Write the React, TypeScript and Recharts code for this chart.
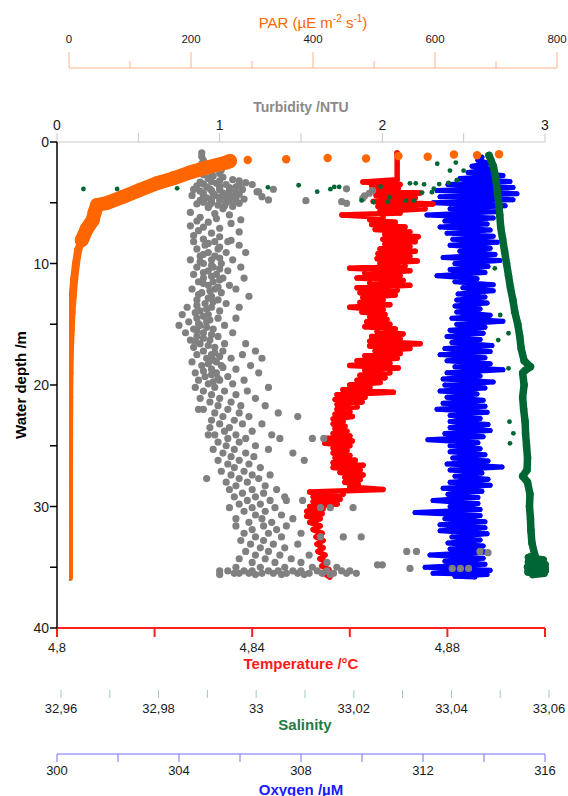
import { Scatter, ScatterChart, XAxis, YAxis } from "recharts";

type Pt = [number, number]; // [depth m, value]

const W = 568;
const H = 796;
const FONT = '"Liberation Sans", Arial, sans-serif';

const ORANGE = "#ff6600";
const GRAY = "#808080";
const RED = "#ff0000";
const BLUE = "#0000ff";
const GREEN = "#006633";

// Axis ticks
const DEPTH_TICKS = [0, 5, 10, 15, 20, 25, 30, 35, 40];
const TURBIDITY_TICKS = [0, 0.5, 1, 1.5, 2, 2.5, 3];
const PAR_TICKS = [0, 100, 200, 300, 400, 500, 600, 700, 800];
const TEMP_TICKS = [4.8, 4.82, 4.84, 4.86, 4.88, 4.9];
const SALINITY_TICKS = [32.96, 32.97, 32.98, 32.99, 33, 33.01, 33.02, 33.03, 33.04, 33.05, 33.06];
const OXYGEN_TICKS = [300, 302, 304, 306, 308, 310, 312, 314, 316];

// PAR (µE m-2 s-1): the profile near the surface, the deep tail, and the single surface readings
const PAR_UPPER: Pt[] = [
  [1.56, 264], [1.69, 258], [2.1, 226], [2.51, 198], [2.99, 171], [3.4, 144], [3.95, 116],
  [4.5, 89], [5.02, 62], [5.19, 46], [5.8, 42], [6.42, 39], [7.16, 29], [8.07, 21],
];
const PAR_DEEP: Pt[] = [
  [7.16, 29], [8.07, 21], [8.89, 15], [10.0, 11.5], [11.3, 8.5], [12.75, 6], [14, 4.2], [15.5, 2.8],
  [17, 1.6], [19, 0.8], [21, 0.4], [24, 0.2], [28, 0], [32, 0], [35.8, 0],
];
const PAR_SURFACE: Pt[] = [
  [1.48, 293], [1.42, 356], [1.32, 424], [1.36, 487], [1.15, 540], [1.21, 588], [1.03, 631], [1.09, 669], [1.01, 705],
];

// Temperature (°C), traced edge to edge down the band
const TEMPERATURE: Pt[] = [
  [0.9, 4.8697], [3.1, 4.8697],
  [3.3, 4.8627], [3.5, 4.8703], [3.6, 4.8645], [3.8, 4.8699], [4.0, 4.8645], [4.2, 4.8744],
  [4.4, 4.8654], [4.6, 4.8734], [4.9, 4.8648], [5.1, 4.877], [5.3, 4.8658], [5.5, 4.8754],
  [5.7, 4.8662], [5.85, 4.8703], [6.0, 4.8584], [6.2, 4.8668], [6.4, 4.8641], [6.6, 4.8693],
  [6.8, 4.8645], [7.0, 4.8713], [7.2, 4.8652], [7.4, 4.8723], [7.6, 4.8672], [7.8, 4.874],
  [8.0, 4.8668], [8.2, 4.8734], [8.4, 4.8672], [8.6, 4.8723], [8.8, 4.8662], [9.0, 4.8734],
  [9.2, 4.8658], [9.4, 4.8723], [9.6, 4.8656], [9.8, 4.8738], [10.0, 4.8662], [10.2, 4.8713],
  [10.4, 4.86], [10.6, 4.8723], [10.8, 4.8631], [11.0, 4.8703], [11.2, 4.8615], [11.4, 4.8709],
  [11.6, 4.8641], [11.8, 4.8723], [12.0, 4.8615], [12.2, 4.8697], [12.4, 4.8621], [12.6, 4.8693],
  [12.8, 4.8627], [13.0, 4.8668], [13.2, 4.8621], [13.4, 4.8682], [13.6, 4.86], [13.8, 4.8668],
  [14.0, 4.8625], [14.2, 4.8672], [14.4, 4.8641], [14.6, 4.8676], [14.8, 4.8635], [15.0, 4.8682],
  [15.2, 4.8631], [15.4, 4.8693], [15.6, 4.8656], [15.8, 4.8709], [16.0, 4.8645], [16.2, 4.8703],
  [16.4, 4.8641], [16.6, 4.8744], [16.8, 4.8641], [17.0, 4.8723], [17.2, 4.8652], [17.4, 4.8703],
  [17.6, 4.8631], [17.8, 4.8697], [18.0, 4.8615], [18.2, 4.8682], [18.4, 4.86], [18.6, 4.8699],
  [18.8, 4.8631], [19.0, 4.8682], [19.2, 4.8621], [19.4, 4.8672], [19.6, 4.8615], [19.8, 4.8662],
  [20.0, 4.86], [20.2, 4.8641], [20.4, 4.8586], [20.6, 4.8689], [20.8, 4.8574], [21.0, 4.8631],
  [21.2, 4.857], [21.4, 4.8625], [21.6, 4.8574], [21.8, 4.8615], [22.0, 4.8574], [22.2, 4.86],
  [22.4, 4.857], [22.6, 4.8605], [22.8, 4.8566], [23.0, 4.8586], [23.2, 4.8566], [23.4, 4.859],
  [23.6, 4.857], [23.8, 4.8594], [24.0, 4.8566], [24.2, 4.86], [24.4, 4.8549], [24.6, 4.8605],
  [24.8, 4.8549], [25.0, 4.86], [25.2, 4.8566], [25.4, 4.8594], [25.6, 4.8566], [25.8, 4.86],
  [26.0, 4.857], [26.2, 4.8611], [26.4, 4.8566], [26.6, 4.8627], [26.8, 4.8566], [27.0, 4.8621],
  [27.2, 4.858], [27.4, 4.8627], [27.6, 4.859], [27.8, 4.8621], [28.0, 4.859], [28.2, 4.8617],
  [28.4, 4.86], [28.6, 4.8668], [28.8, 4.8518], [29.0, 4.8586], [29.2, 4.8525], [29.4, 4.858],
  [29.6, 4.8525], [29.8, 4.8574], [30.0, 4.8518], [30.2, 4.8545], [30.4, 4.8512], [30.6, 4.8543],
  [30.8, 4.8512], [31.0, 4.8539], [31.3, 4.8518], [31.6, 4.8539], [31.9, 4.8525], [32.2, 4.8543],
  [32.5, 4.8531], [32.8, 4.8545], [33.1, 4.8533], [33.4, 4.8545], [33.7, 4.8535], [34.0, 4.8549],
  [34.3, 4.8539], [34.6, 4.8553], [34.9, 4.8543], [35.2, 4.8557], [35.5, 4.8547], [35.8, 4.8559],
];

// Oxygen (µM), traced edge to edge down the band
const OXYGEN: Pt[] = [
  [1.25, 313.93], [1.5, 313.8], [1.75, 314.13], [2.0, 313.61], [2.25, 314.26], [2.5, 313.48], [2.75, 314.62],
  [3.0, 313.21], [3.25, 314.85], [3.5, 312.82], [3.75, 314.95], [4.0, 312.46], [4.25, 315.08], [4.5, 312.56],
  [4.75, 314.95], [5.0, 312.33], [5.25, 314.69], [5.5, 312.89], [5.75, 314.36], [6.0, 312.13], [6.25, 314.3],
  [6.5, 312.72], [6.75, 314.1], [7.0, 312.56], [7.25, 314.2], [7.5, 312.79], [7.75, 314.3], [8.0, 312.98],
  [8.25, 314.43], [8.5, 312.89], [8.75, 314.2], [9.0, 313.21], [9.25, 314.36], [9.5, 312.66], [9.75, 314.52],
  [10, 313.05], [10.25, 314.13], [10.5, 312.89], [10.75, 314.03], [11, 312.46], [11.25, 313.77], [11.5, 313.05],
  [11.75, 314.3], [12, 313.31], [12.25, 314.3], [12.5, 313.15], [12.75, 314.03], [13, 313.11], [13.25, 314.1],
  [13.5, 313.05], [13.75, 313.87], [14, 313.11], [14.25, 314.2], [14.5, 312.95], [14.75, 314.62], [15, 313.11],
  [15.25, 314.03], [15.5, 312.89], [15.75, 313.97], [16, 312.79], [16.25, 313.87], [16.5, 312.95], [16.75, 314.26],
  [17, 312.72], [17.25, 314.2], [17.5, 312.56], [17.75, 314.03], [18, 312.79], [18.25, 314.2], [18.5, 313.05],
  [18.75, 314.62], [19, 312.79], [19.25, 313.87], [19.5, 312.66], [19.75, 314.3], [20, 312.72], [20.25, 314.03],
  [20.5, 312.56], [20.75, 313.77], [21, 312.79], [21.25, 313.97], [21.5, 312.66], [21.75, 314.03], [22, 312.46],
  [22.25, 314.1], [22.5, 312.89], [22.75, 313.87], [23, 312.89], [23.25, 314.13], [23.5, 312.89], [23.75, 314.2],
  [24, 312.72], [24.25, 313.97], [24.5, 312.16], [24.75, 313.8], [25, 312.89], [25.25, 313.87], [25.5, 312.89],
  [25.75, 314.03], [26, 312.98], [26.25, 314.13], [26.5, 312.79], [26.75, 314.59], [27, 312.89], [27.25, 313.93],
  [27.5, 313.05], [27.75, 314.13], [28, 312.89], [28.25, 314.2], [28.5, 312.66], [28.75, 313.93], [29, 312.82],
  [29.25, 313.8], [29.5, 312.33], [29.75, 313.8], [30, 312.89], [30.25, 313.87], [30.5, 311.74], [30.75, 313.87],
  [31, 312.72], [31.25, 314.03], [31.5, 312.56], [31.75, 314.03], [32, 312.56], [32.25, 314.1], [32.5, 312.95],
  [32.75, 313.87], [33, 312.82], [33.25, 313.97], [33.5, 312.89], [33.75, 314.03], [34, 312.23], [34.25, 313.97],
  [34.5, 312.72], [34.75, 314.03], [35, 312.07], [35.25, 314.2], [35.5, 312.33], [35.6, 314.1], [35.75, 313.05],
  [35.8, 313.7],
];

// Salinity: main profile and scattered readings
const SALINITY: Pt[] = [
  [1.1, 33.0477], [1.5, 33.0481], [2, 33.0486], [3, 33.0491], [4, 33.0494], [5, 33.0497], [6, 33.0499],
  [7, 33.0501], [8, 33.0505], [9, 33.0509], [10, 33.0513], [11, 33.0517], [12, 33.0521], [13, 33.0526],
  [14, 33.053], [15, 33.0536], [16, 33.054], [17, 33.0543], [18, 33.0549], [18.5, 33.0562], [18.8, 33.0551],
  [19, 33.0546], [20, 33.0549], [21, 33.0546], [22, 33.0548], [23, 33.0551], [24, 33.0552], [25, 33.0554],
  [26, 33.0556], [27, 33.0555], [27.5, 33.0546], [28, 33.0556], [29, 33.0561], [30, 33.056], [31, 33.0562],
  [32, 33.0563], [33, 33.0565], [34, 33.0571], [34.2, 33.0558], [34.4, 33.0588], [34.6, 33.0558], [34.8, 33.0592],
  [35.0, 33.0556], [35.2, 33.0594], [35.4, 33.0557], [35.5, 33.059], [35.6, 33.0567],
];
const SALINITY_SCATTER: Pt[] = [
  [3.87, 32.9646], [3.87, 32.9715], [3.81, 32.9838], [3.73, 33.0024], [3.56, 33.0087], [4.09, 33.0125],
  [3.88, 33.0152], [3.7, 33.016], [3.7, 33.017], [4.81, 33.0216], [4.94, 33.0241], [3.68, 33.0255],
  [4.53, 33.0274], [4.91, 33.027], [4.83, 33.0307], [4.83, 33.0324], [3.4, 33.0315], [3.4, 33.0327],
  [3.48, 33.0344], [4.16, 33.034], [4.13, 33.036], [3.83, 33.0364], [3.46, 33.0375], [1.79, 33.0371],
  [1.69, 33.0409], [2.35, 33.0397], [2.35, 33.0425], [3.36, 33.0394], [3.15, 33.0411], [10.4, 33.0489],
  [14.24, 33.05], [15.74, 33.0517], [16.3, 33.0496], [18.63, 33.0517], [23.02, 33.0519], [24.8, 33.052],
  [23.98, 33.0527],
];

// Turbidity (NTU)
const TURBIDITY: Pt[] = [
  [0.9, 0.89], [1.2, 0.89], [1.5, 0.9], [1.8, 0.89], [2.1, 0.9], [2.4, 0.89], [2.7, 0.9],
  [1.7, 1.01], [2.0, 1.0], [2.3, 1.01], [2.6, 1.0], [2.9, 1.02], [3.2, 1.0], [2.2, 0.96], [2.5, 0.95], [2.8, 0.96],
  [3.0, 0.93], [3.1, 1.08], [3.2, 1.12], [3.3, 0.88], [3.35, 1.16], [3.4, 0.98], [3.5, 1.04], [3.5, 1.2],
  [3.6, 0.86], [3.7, 0.92], [3.7, 1.1], [3.8, 1.0], [3.9, 1.14], [3.9, 0.84], [4.0, 0.95], [4.0, 1.06],
  [4.1, 1.23], [4.2, 0.9], [4.2, 1.02], [4.3, 1.12], [4.4, 0.83], [4.4, 0.97], [4.5, 1.08], [4.5, 1.26],
  [4.6, 0.92], [4.6, 1.04], [4.7, 1.15], [4.8, 0.88], [4.8, 1.0], [4.9, 1.1], [5.0, 0.95], [5.0, 1.04],
  [5.1, 0.86], [5.2, 0.99], [5.3, 1.08], [5.4, 0.93], [5.5, 1.02],
  [3.25, 0.95], [3.45, 0.9], [3.55, 1.12], [3.65, 1.0], [3.75, 1.06], [3.85, 0.94], [3.95, 1.0], [4.05, 0.88],
  [4.15, 1.1], [4.25, 0.96], [4.35, 1.05], [4.45, 0.9], [4.55, 1.0], [4.65, 1.1], [4.75, 0.95], [4.85, 1.06],
  [4.95, 0.9], [5.05, 1.12], [5.15, 0.94], [5.25, 1.03],
  [3.89, 1.33], [4.83, 1.53], [4.91, 1.75], [5.05, 1.78], [3.85, 1.78], [4.22, 1.92], [3.99, 1.94],
  [4.63, 1.88], [4.44, 1.89], [4.1, 1.24], [4.77, 1.3],
  [5.8, 0.82], [5.9, 0.97], [6.0, 1.06], [6.2, 0.88], [6.3, 0.98], [6.4, 1.13], [6.5, 0.86], [6.6, 0.93],
  [6.7, 1.07], [6.9, 0.82], [7.0, 0.9], [7.1, 1.0], [7.3, 0.87], [7.4, 1.12], [7.5, 0.95], [7.7, 0.84],
  [7.8, 1.0], [8.0, 0.9], [8.1, 1.07],
  [8.2, 0.84], [8.2, 0.97], [8.2, 1.05], [8.5, 0.91], [8.5, 1.12], [8.8, 0.86], [8.8, 0.99], [9.1, 0.93],
  [9.1, 1.04], [9.1, 1.16], [9.4, 0.88], [9.4, 0.97], [9.7, 0.82], [9.7, 0.95], [9.7, 1.08], [10.0, 0.9],
  [10.0, 1.01], [10.3, 0.86], [10.3, 0.96], [10.3, 1.13], [10.6, 0.93], [10.6, 1.05], [10.9, 0.84],
  [10.9, 0.98], [11.2, 0.9], [11.2, 1.02], [11.2, 1.15], [11.5, 0.87], [11.5, 0.96], [11.8, 0.93],
  [11.8, 1.06], [12.1, 0.83], [12.1, 0.97], [12.1, 1.1], [12.4, 0.89], [12.4, 1.01], [12.7, 0.95],
  [12.7, 1.18], [13.0, 0.86], [13.0, 0.99], [13.3, 0.91], [13.3, 1.04], [13.6, 0.8], [13.6, 0.95],
  [13.6, 1.12], [13.9, 0.88], [13.9, 1.0],
  [8.35, 0.93], [8.65, 1.0], [9.25, 0.9], [9.55, 1.0], [9.85, 0.88], [10.15, 0.95], [10.45, 1.0],
  [10.75, 0.9], [11.05, 0.95], [11.35, 1.0], [11.65, 0.9], [11.95, 0.99], [12.25, 0.94], [12.55, 0.87],
  [12.85, 0.93], [13.15, 0.96], [13.45, 0.86], [13.75, 0.92],
  [14.2, 0.77], [14.2, 0.93], [14.5, 0.86], [14.5, 0.99], [14.5, 1.1], [14.8, 0.81], [14.8, 0.92],
  [15.1, 0.75], [15.1, 0.88], [15.1, 1.03], [15.4, 0.84], [15.4, 0.96], [15.7, 0.79], [15.7, 0.9],
  [15.7, 1.08], [16.0, 0.86], [16.0, 0.99], [16.3, 0.82], [16.3, 0.94], [16.6, 0.88], [16.6, 1.03],
  [16.6, 1.16], [16.9, 0.84], [16.9, 0.97],
  [14.05, 0.85], [14.35, 0.9], [14.65, 0.94], [14.95, 0.87], [15.25, 0.92], [15.55, 0.86], [15.85, 0.95],
  [16.15, 0.9], [16.45, 0.85], [16.75, 0.93],
  [17.2, 0.9], [17.2, 1.02], [17.2, 1.22], [17.5, 0.86], [17.5, 0.95], [17.5, 1.14], [17.8, 0.92],
  [17.8, 1.07], [17.8, 1.26], [18.1, 0.83], [18.1, 0.98], [18.4, 0.89], [18.4, 1.01], [18.4, 1.19],
  [18.7, 0.95], [18.7, 1.1], [19.0, 0.85], [19.0, 0.98], [19.0, 1.24], [19.3, 0.91], [19.3, 1.05],
  [19.6, 0.87], [19.6, 1.0], [19.6, 1.15], [19.9, 0.93], [19.9, 1.08],
  [17.35, 0.97], [17.65, 1.0], [17.95, 0.96], [18.25, 0.93], [18.55, 1.02], [18.85, 0.9], [19.15, 0.95],
  [19.45, 0.99], [19.75, 0.96],
  [20.2, 0.85], [20.2, 0.97], [20.2, 1.3], [20.5, 0.9], [20.5, 1.03], [20.5, 1.17], [20.8, 0.95],
  [20.8, 1.1], [21.1, 0.88], [21.1, 1.0], [21.1, 1.22], [21.4, 0.94], [21.4, 1.07], [21.7, 0.99],
  [21.7, 1.13], [21.7, 1.28], [22.0, 0.87], [22.0, 0.9], [22.0, 1.05], [22.3, 0.97], [22.3, 1.12],
  [22.3, 1.36], [22.6, 1.02], [22.6, 1.18], [22.6, 1.48], [22.9, 0.95], [22.9, 1.09], [23.2, 1.0],
  [23.2, 1.14], [23.2, 1.26], [23.5, 0.94], [23.5, 1.06], [23.8, 1.03], [23.8, 1.2], [24.1, 0.93],
  [24.1, 0.97], [24.1, 1.1], [24.1, 1.32], [24.4, 1.05], [24.4, 1.16], [24.4, 1.37], [24.4, 1.57],
  [24.4, 1.64], [24.7, 0.99], [24.7, 1.12], [25.0, 1.04], [25.0, 1.22], [25.3, 0.96], [25.3, 1.09],
  [25.3, 1.3], [25.6, 1.02], [25.6, 1.16], [25.6, 1.45], [25.9, 1.07], [25.9, 1.21], [26.2, 0.99],
  [26.2, 1.12], [26.2, 1.52], [26.5, 1.05], [26.5, 1.18], [26.8, 1.09], [26.8, 1.25], [27.1, 1.01],
  [27.1, 1.15], [27.4, 1.07], [27.4, 1.2], [27.4, 1.31], [27.7, 0.92], [27.7, 1.12], [27.7, 1.24],
  [28.0, 1.04], [28.0, 1.17], [28.3, 1.1], [28.3, 1.28], [28.6, 1.06], [28.6, 1.2], [28.6, 1.35],
  [28.9, 1.14], [28.9, 1.27], [29.2, 1.09], [29.2, 1.22], [29.2, 1.4], [29.5, 1.17], [29.5, 1.31],
  [29.5, 1.41], [29.5, 1.51], [29.8, 1.12], [29.8, 1.25], [30.1, 1.06], [30.1, 1.2], [30.1, 1.34],
  [30.1, 1.62], [30.1, 1.68], [30.1, 1.82], [30.4, 1.15], [30.4, 1.28], [30.7, 1.22], [30.7, 1.38],
  [31.0, 1.1], [31.0, 1.26], [31.0, 1.45], [31.3, 1.18], [31.3, 1.32], [31.6, 1.1], [31.6, 1.27],
  [31.6, 1.41], [31.9, 1.2], [31.9, 1.35], [32.2, 1.15], [32.2, 1.3], [32.2, 1.5], [32.5, 1.22],
  [32.5, 1.38], [32.5, 1.62], [32.5, 1.76], [32.5, 1.87], [32.8, 1.13], [32.8, 1.27], [33.1, 1.19],
  [33.1, 1.33], [33.1, 1.48], [33.4, 1.25], [33.4, 1.4], [33.7, 1.16], [33.7, 1.3], [33.7, 2.15],
  [33.7, 2.21], [33.7, 2.6], [33.8, 2.65], [34.0, 1.22], [34.0, 1.37], [34.0, 1.55], [34.3, 1.12],
  [34.3, 1.28], [34.3, 1.44], [34.6, 1.2], [34.6, 1.34], [34.6, 1.5], [34.6, 1.66], [34.8, 1.97],
  [34.8, 2.0], [35.0, 1.1], [35.0, 1.25], [35.0, 1.4], [35.0, 1.57], [35.0, 1.72], [35.1, 2.17],
  [35.1, 2.43], [35.1, 2.48], [35.1, 2.53],
  [35.3, 1.0], [35.3, 1.05], [35.3, 1.15], [35.3, 1.2], [35.3, 1.3], [35.3, 1.36], [35.3, 1.45],
  [35.3, 1.5], [35.3, 1.6], [35.3, 1.66], [35.3, 1.75], [35.3, 1.8], [35.5, 1.09], [35.5, 1.12],
  [35.5, 1.18], [35.5, 1.26], [35.5, 1.33], [35.5, 1.41], [35.5, 1.48], [35.5, 1.55], [35.5, 1.63],
  [35.5, 1.7], [35.5, 1.78], [35.5, 1.84], [35.6, 1.0], [35.6, 1.22], [35.6, 1.38], [35.6, 1.52],
  [35.6, 1.68],
];

const rows = (pts: Pt[]) => pts.map(([d, v]) => ({ d, v }));
const comma = (v: number) => String(parseFloat(v.toFixed(2))).replace(".", ",");

// Tick drawn by hand so that line length and label visibility can vary per tick.
// tickSize/tickMargin are 0 on every axis, so (x, y) is the point on the axis line.
function hTick(o: {
  len: (v: number) => number;
  up?: boolean;
  stroke: string;
  sw?: number;
  text: (v: number) => string | null;
  dy: number;
  size: number;
}) {
  return (props: any) => {
    const { x, y, payload } = props;
    const v = payload.value as number;
    const s = o.up ? -1 : 1;
    const label = o.text(v);
    return (
      <g>
        <line x1={x} x2={x} y1={y} y2={y + s * o.len(v)} stroke={o.stroke} strokeWidth={o.sw ?? 1} />
        {label !== null && (
          <text x={x} y={y + o.dy} textAnchor="middle" fontSize={o.size} fill="#1a1a1a" fontFamily={FONT}>
            {label}
          </text>
        )}
      </g>
    );
  };
}

const DepthTick = (props: any) => {
  const { x, y, payload } = props;
  const v = payload.value as number;
  return (
    <g>
      <line x1={x - 7} x2={x} y1={y} y2={y} stroke="#000" strokeWidth={1.5} />
      {v % 10 === 0 && (
        <text x={x - 8} y={y} dy="0.36em" textAnchor="end" fontSize={14} fill="#1a1a1a" fontFamily={FONT}>
          {v}
        </text>
      )}
    </g>
  );
};

function title(text: string, color: string, dy: number, fromBottom = false, size = 15, bold = true) {
  return (props: any) => {
    const vb = props.viewBox;
    return (
      <text
        x={vb.x + vb.width / 2}
        y={(fromBottom ? vb.y + vb.height : vb.y) + dy}
        textAnchor="middle"
        fontSize={size}
        fontWeight={bold ? "bold" : "normal"}
        fill={color}
        fontFamily={FONT}
      >
        {text}
      </text>
    );
  };
}

const parTitle = (props: any) => {
  const vb = props.viewBox;
  return (
    <text x={vb.x + vb.width / 2} y={vb.y + vb.height - 40} textAnchor="middle" fontSize={15} fill={ORANGE} fontFamily={FONT}>
      PAR (µE m<tspan fontSize={10} dy={-6}>-2</tspan>
      <tspan dy={6}> s</tspan>
      <tspan fontSize={10} dy={-6}>-1</tspan>
      <tspan dy={6}>)</tspan>
    </text>
  );
};

const depthTitle = (props: any) => {
  const vb = props.viewBox;
  const cx = vb.x + 21;
  const cy = vb.y + vb.height / 2;
  return (
    <text x={cx} y={cy} transform={`rotate(-90 ${cx} ${cy})`} dy="0.36em" textAnchor="middle" fontSize={15} fontWeight="bold" fill="#000" fontFamily={FONT}>
      Water depth /m
    </text>
  );
};

const dot = (r: number, fill: string) => (p: any) => <circle cx={p.cx} cy={p.cy} r={r} fill={fill} />;
const trace = (stroke: string, strokeWidth: number) => ({
  stroke,
  strokeWidth,
  strokeLinejoin: "round" as const,
  strokeLinecap: "round" as const,
  fill: "none",
});

const hiddenDepth = <YAxis yAxisId="d" type="number" dataKey="d" domain={[0, 40]} reversed hide allowDataOverflow />;

export default function App() {
  return (
    <div style={{ position: "absolute", left: 0, top: 0, width: W, height: H, background: "#fff", fontFamily: FONT }}>
      {/* turbidity, temperature, oxygen share the 57..545 frame */}
      <div style={{ position: "absolute", left: 0, top: 0 }}>
        <ScatterChart width={W} height={H} margin={{ top: 0, right: 23, bottom: 0, left: 0 }}>
          <XAxis
            xAxisId="ax0turb" type="number" dataKey="v" orientation="top" height={142}
            domain={[0, 3]} ticks={TURBIDITY_TICKS} interval={0} allowDataOverflow
            tickSize={0} tickMargin={0} tickLine={false} axisLine={{ stroke: "#c8c8c8" }}
            tick={hTick({ len: () => 9, up: true, stroke: "#c8c8c8", text: (v) => (Number.isInteger(v) ? String(v) : null), dy: -12, size: 14 })}
            label={title("Turbidity /NTU", "#8a8a8a", -30, true, 14)}
          />
          <XAxis
            xAxisId="ax1temp" type="number" dataKey="v" orientation="bottom" height={126}
            domain={[4.8, 4.9]} ticks={TEMP_TICKS} interval={0} allowDataOverflow
            tickSize={0} tickMargin={0} tickLine={false} axisLine={{ stroke: "#ff2020", strokeWidth: 2 }}
            tick={hTick({ len: () => 9, stroke: "#ff2020", sw: 2, text: (v) => (Math.round(v * 100) % 4 === 0 ? comma(v) : null), dy: 24, size: 13 })}
            label={title("Temperature /°C", "#ff1a1a", 41)}
          />
          <XAxis
            xAxisId="ax2oxy" type="number" dataKey="v" orientation="bottom" height={42}
            domain={[300, 316]} ticks={OXYGEN_TICKS} interval={0} allowDataOverflow
            tickSize={0} tickMargin={0} tickLine={false} axisLine={{ stroke: "#7070ff" }}
            tick={hTick({ len: () => 8, stroke: "#7070ff", text: (v) => (v % 4 === 0 ? String(v) : null), dy: 21, size: 13 })}
            label={title("Oxygen /µM", "#1a1aff", 41)}
          />
          <YAxis
            yAxisId="d" type="number" dataKey="d" domain={[0, 40]} reversed width={57}
            ticks={DEPTH_TICKS} interval={0} allowDataOverflow
            tickSize={0} tickMargin={0} tickLine={false} axisLine={{ stroke: "#000", strokeWidth: 1.5 }}
            tick={DepthTick} label={depthTitle}
          />
          <Scatter data={rows(OXYGEN)} xAxisId="ax2oxy" yAxisId="d" line={trace(BLUE, 5)} shape={dot(2.5, BLUE)} isAnimationActive={false} />
          <Scatter data={rows(TEMPERATURE)} xAxisId="ax1temp" yAxisId="d" line={trace(RED, 5.5)} shape={dot(2.75, RED)} isAnimationActive={false} />
          <Scatter data={rows(TURBIDITY)} xAxisId="ax0turb" yAxisId="d" shape={dot(3.6, GRAY)} isAnimationActive={false} />
        </ScatterChart>
      </div>

      {/* salinity frame sits 4 px to the right */}
      <div style={{ position: "absolute", left: 0, top: 0 }}>
        <ScatterChart width={W} height={H} margin={{ top: 142, right: 19, bottom: 62, left: 61 }}>
          <XAxis xAxisId="ax0gap" type="number" orientation="bottom" height={62} domain={[0, 1]} tick={false} tickLine={false} axisLine={false} />
          <XAxis
            xAxisId="ax1sal" type="number" dataKey="v" orientation="bottom" height={44}
            domain={[32.96, 33.06]} ticks={SALINITY_TICKS} interval={0} allowDataOverflow
            tickSize={0} tickMargin={0} tickLine={false} axisLine={false}
            tick={hTick({ len: () => 8, stroke: "#9fcbb3", text: (v) => (Math.round(v * 100) % 2 === 0 ? comma(v) : null), dy: 23, size: 13 })}
            label={title("Salinity", "#257a45", 40)}
          />
          {hiddenDepth}
          <Scatter data={rows(SALINITY)} xAxisId="ax1sal" yAxisId="d" line={trace(GREEN, 7.5)} shape={dot(3.7, GREEN)} isAnimationActive={false} />
          <Scatter data={rows(SALINITY_SCATTER)} xAxisId="ax1sal" yAxisId="d" shape={dot(2.4, GREEN)} isAnimationActive={false} />
        </ScatterChart>
      </div>

      {/* PAR frame is offset 12 px to the right */}
      <div style={{ position: "absolute", left: 0, top: 0 }}>
        <ScatterChart width={W} height={H} margin={{ top: 0, right: 11, bottom: 168, left: 69 }}>
          <XAxis xAxisId="ax0gap" type="number" orientation="top" height={74} domain={[0, 1]} tick={false} tickLine={false} axisLine={false} />
          <XAxis
            xAxisId="ax1par" type="number" dataKey="v" orientation="top" height={68}
            domain={[0, 800]} ticks={PAR_TICKS} interval={0} allowDataOverflow
            tickSize={0} tickMargin={0} tickLine={false} axisLine={{ stroke: "#f7b48c" }}
            tick={hTick({ len: (v) => (v % 200 === 0 ? 16 : 7), up: true, stroke: "#f7b48c", text: (v) => (v % 200 === 0 ? String(v) : null), dy: -25, size: 11.5 })}
            label={parTitle}
          />
          {hiddenDepth}
          <Scatter data={rows(PAR_DEEP)} xAxisId="ax1par" yAxisId="d" line={trace(ORANGE, 8)} shape={dot(4, ORANGE)} isAnimationActive={false} />
          <Scatter data={rows(PAR_UPPER)} xAxisId="ax1par" yAxisId="d" line={trace(ORANGE, 14)} shape={dot(7, ORANGE)} isAnimationActive={false} />
          <Scatter data={rows(PAR_SURFACE)} xAxisId="ax1par" yAxisId="d" shape={dot(4.2, ORANGE)} isAnimationActive={false} />
        </ScatterChart>
      </div>
    </div>
  );
}
